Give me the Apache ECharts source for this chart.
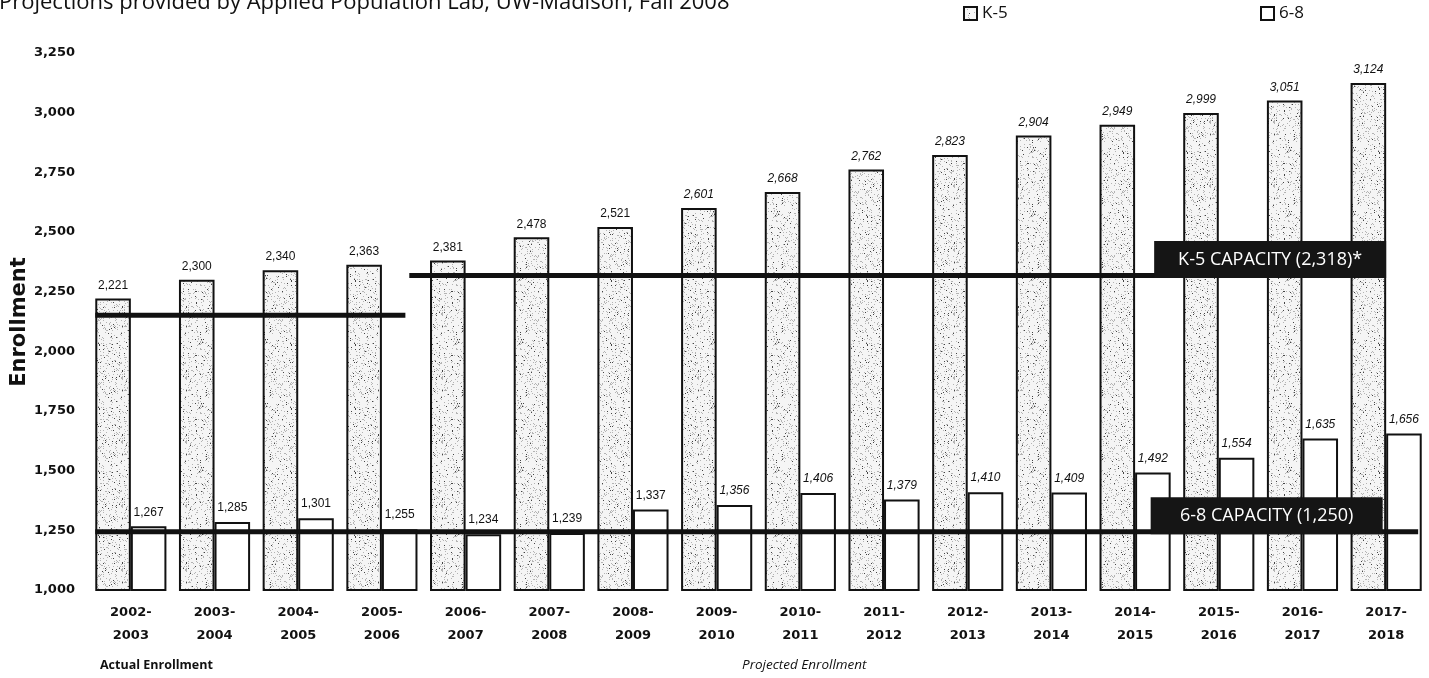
<!DOCTYPE html>
<html><head><meta charset="utf-8">
<script src="https://cdn.jsdelivr.net/npm/echarts@6/dist/echarts.min.js"></script>
<style>html,body{margin:0;padding:0;background:#fff}#c{width:1429px;height:678px}</style>
</head><body><div id="c"></div>
<script>
const categories = ['2002-\n2003','2003-\n2004','2004-\n2005','2005-\n2006','2006-\n2007','2007-\n2008','2008-\n2009','2009-\n2010','2010-\n2011','2011-\n2012','2012-\n2013','2013-\n2014','2014-\n2015','2015-\n2016','2016-\n2017','2017-\n2018'];
const k5 = [2221,2300,2340,2363,2381,2478,2521,2601,2668,2762,2823,2904,2949,2999,3051,3124];
const g68 = [1267,1285,1301,1255,1234,1239,1337,1356,1406,1379,1410,1409,1492,1554,1635,1656];
const yMin = 1000, yMax = 3250, yStep = 250;
const K5_CAP_ACTUAL = 2151;   // capacity line drawn under the actual-enrollment years
const K5_CAP = 2318;
const G68_CAP = 1250;
const ACTUAL_COUNT = 4;       // number of actual-enrollment years
const PROJECTED_LABEL_FROM = 7;
const subtitle = 'Projections provided by Applied Population Lab, UW-Madison, Fall 2008';
const k5CapText = 'K-5 CAPACITY (2,318)*';
const g68CapText = '6-8 CAPACITY (1,250)';

function makeStipple(){
  const n = 64;
  const c = document.createElement('canvas'); c.width = c.height = n;
  const g = c.getContext('2d');
  g.fillStyle = '#f5f5f5'; g.fillRect(0,0,n,n);
  let s = 98765;
  const next = () => { s = (s * 1103515245 + 12345) & 0x7fffffff; return s / 0x7fffffff; };
  for (let y = 0; y < n; y++) for (let x = 0; x < n; x++) {
    const r = next();
    if (r < 0.09) { g.fillStyle = '#b4b4b4'; g.fillRect(x,y,1,1); }
    else if (r < 0.115) { g.fillStyle = '#444'; g.fillRect(x,y,1,1); }
  }
  return c;
}
const stipple = { image: makeStipple(), repeat: 'repeat' };

const fmt = v => v.toLocaleString('en-US');
function labelFor(i){
  return { fontStyle: i >= PROJECTED_LABEL_FROM ? 'italic' : 'normal' };
}

const chart = echarts.init(document.getElementById('c'));
const legendText = { fontFamily: 'Open Sans', fontSize: 17, color: '#111' };
const option = {
  animation: false,
  backgroundColor: '#fff',
  grid: { left: 89, right: 1, top: 53, bottom: 88 },
  legend: [
    { data: ['K-5'], left: 963, top: 5, padding: 0, itemWidth: 13, itemHeight: 13,
      textStyle: legendText, icon: 'rect', selectedMode: false },
    { data: ['6-8'], left: 1260, top: 5, padding: 0, itemWidth: 13, itemHeight: 13,
      textStyle: legendText, icon: 'rect', selectedMode: false }
  ],
  xAxis: {
    type: 'category', data: categories,
    axisLine: { show: false }, axisTick: { show: false },
    axisLabel: { interval: 0, margin: 11, fontFamily: 'DejaVu Sans', fontWeight: 'bold', fontSize: 13, lineHeight: 23, color: '#111' }
  },
  yAxis: {
    type: 'value', min: yMin, max: yMax, interval: yStep,
    splitLine: { show: false }, axisLine: { show: false }, axisTick: { show: false },
    axisLabel: { margin: 14, fontFamily: 'DejaVu Sans', fontWeight: 'bold', fontSize: 13, color: '#111', formatter: v => fmt(v) }
  },
  series: [
    { name: 'K-5', type: 'bar', barGap: '0%', barCategoryGap: '15%',
      data: k5.map((v,i) => ({ value: v, label: labelFor(i) })),
      itemStyle: { color: stipple, borderColor: '#111', borderWidth: 2 },
      label: { show: true, position: 'top', distance: 7, fontFamily: 'Liberation Sans', fontSize: 12, color: '#111', formatter: p => fmt(p.value) }
    },
    { name: '6-8', type: 'bar', barGap: '0%', barCategoryGap: '15%',
      data: g68.map((v,i) => ({ value: v, label: labelFor(i) })),
      itemStyle: { color: '#fff', borderColor: '#111', borderWidth: 2 },
      label: { show: true, position: 'top', distance: 8, fontFamily: 'Liberation Sans', fontSize: 12, color: '#111', formatter: p => fmt(p.value) }
    }
  ],
  graphic: []
};
chart.setOption(option);

function P(i, v){ return chart.convertToPixel({ xAxisIndex: 0, yAxisIndex: 0 }, [i, v]); }
const last = categories.length - 1;
const band = P(1, yMin)[0] - P(0, yMin)[0];
const barW = band * 0.85 / 2;
const c0 = P(0, yMin)[0], cA = P(ACTUAL_COUNT - 1, yMin)[0], cL = P(last, yMin)[0];
const yK5a = P(0, K5_CAP_ACTUAL)[1], yK5 = P(0, K5_CAP)[1], y68 = P(0, G68_CAP)[1] + 1.5;
const boxW = 232, boxH = 37, lineW = 5;
const lineStyle = { stroke: '#111', lineWidth: lineW };
const g = [
  { type: 'text', x: -1, y: 14, style: { text: subtitle, fontFamily: 'Open Sans', fontSize: 22, fill: '#111', verticalAlign: 'bottom' } },
  { type: 'text', x: 20, y: 322, rotation: Math.PI / 2, style: { text: 'Enrollment', fontFamily: 'DejaVu Sans', fontWeight: 'bold', fontSize: 21, fill: '#111', align: 'center', verticalAlign: 'middle' } },
  { type: 'text', x: 100, y: 665, style: { text: 'Actual Enrollment', fontFamily: 'Open Sans', fontWeight: 'bold', fontSize: 12.5, fill: '#111', verticalAlign: 'middle' } },
  { type: 'text', x: 742, y: 665, style: { text: 'Projected Enrollment', fontFamily: 'Open Sans', fontStyle: 'italic', fontSize: 13.5, fill: '#111', verticalAlign: 'middle' } },
  // K-5 capacity, actual years
  { type: 'line', shape: { x1: c0 - barW, y1: yK5a, x2: cA + barW * 0.66, y2: yK5a }, style: lineStyle, z: 100 },
  // K-5 capacity, projected years
  { type: 'line', shape: { x1: cA + barW * 0.77, y1: yK5, x2: cL - boxW + 1, y2: yK5 }, style: lineStyle, z: 100 },
  { type: 'rect', shape: { x: cL - boxW, y: yK5 + 2.5 - boxH, width: boxW, height: boxH }, style: { fill: '#151515' }, z: 100 },
  { type: 'text', x: cL - boxW / 2, y: yK5 + 2.5 - boxH / 2, style: { text: k5CapText, fontFamily: 'Open Sans', fontSize: 18, fill: '#fff', align: 'center', verticalAlign: 'middle' }, z: 101 },
  // 6-8 capacity
  { type: 'line', shape: { x1: c0 - barW, y1: y68, x2: cL + barW * 0.9, y2: y68 }, style: lineStyle, z: 100 },
  { type: 'rect', shape: { x: cL - 3.5 - boxW, y: y68 + 2.5 - boxH, width: boxW, height: boxH }, style: { fill: '#151515' }, z: 100 },
  { type: 'text', x: cL - 3.5 - boxW / 2, y: y68 + 2.5 - boxH / 2, style: { text: g68CapText, fontFamily: 'Open Sans', fontSize: 18, fill: '#fff', align: 'center', verticalAlign: 'middle' }, z: 101 }
];
chart.setOption({ graphic: g });
</script></body></html>
